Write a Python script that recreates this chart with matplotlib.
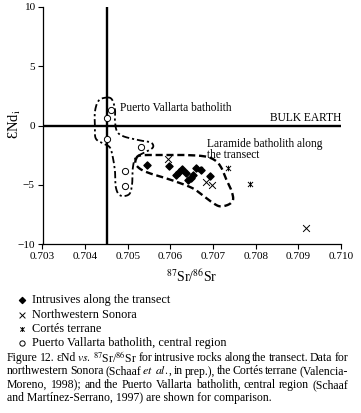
import numpy as np
import matplotlib
matplotlib.use('Agg')
import matplotlib.pyplot as plt
from matplotlib.path import Path

plt.rcParams['font.family'] = ['Liberation Serif', 'DejaVu Serif']
plt.rcParams['mathtext.fontset'] = 'stix'

# data
intr_sr = [0.70546, 0.70596, 0.70612, 0.70620, 0.70628, 0.70636, 0.70641, 0.70648, 0.70654, 0.70660, 0.70672, 0.70692]
intr_nd = [-3.30, -3.40, -4.15, -3.95, -3.70, -4.00, -4.60, -4.40, -4.15, -3.55, -3.75, -4.30]

sonora_sr = [0.70595, 0.70684, 0.70697, 0.70917]
sonora_nd = [-2.86, -4.75, -5.05, -8.62]

cortes_sr = [0.70670, 0.70736, 0.70787]
cortes_nd = [-3.70, -3.56, -4.97]

pv_sr = [0.70460, 0.70452, 0.70451, 0.70532, 0.70493, 0.70493]
pv_nd = [1.30, 0.60, -1.10, -1.85, -3.80, -5.13]

bulk_sr = 0.70451  # vertical reference line

# hand drawn envelopes (data coords)
pv_env_sr = [0.70451, 0.70463, 0.70470, 0.70470, 0.70475, 0.70491, 0.70529, 0.70554, 0.70559, 0.70540,
             0.70519, 0.70512, 0.70510, 0.70503, 0.70482, 0.70472, 0.70470, 0.70465, 0.70458, 0.70442,
             0.70425, 0.70423, 0.70423, 0.70432]
pv_env_nd = [2.36, 2.19, 1.35, 0.34, -0.51, -0.93, -1.26, -1.43, -1.85, -2.27,
             -2.70, -3.54, -4.97, -5.81, -5.90, -5.22, -3.88, -2.70, -1.85, -1.52,
             -1.10, -0.17, 1.18, 2.11]
lar_env_sr = [0.70519, 0.70529, 0.70576, 0.70634, 0.70681, 0.70705, 0.70719, 0.70730, 0.70742, 0.70747,
              0.70737, 0.70716, 0.70698, 0.70676, 0.70653, 0.70618, 0.70583, 0.70552, 0.70531, 0.70519]
lar_env_nd = [-2.86, -2.53, -2.49, -2.49, -2.61, -2.95, -3.54, -4.47, -5.39, -6.23,
              -6.66, -6.82, -6.49, -5.90, -5.31, -4.80, -4.38, -4.04, -3.71, -3.29]

leg_labels = ['Intrusives along the transect', 'Northwestern Sonora', 'Cortés terrane',
              'Puerto Vallarta batholith, central region']

caption = [
    ['Figure', '12.', 'εNd', r'$\mathit{vs.}$', r'$^{87}$Sr/$^{86}$Sr', 'for', 'intrusive', 'rocks', 'along',
     'the', 'transect.', 'Data', 'for'],
    ['northwestern', 'Sonora', '(Schaaf', r'$\mathit{et}$', r'$\mathit{al.}$,', 'in', 'prep.),', 'the',
     'Cortés', 'terrane', '(Valencia-'],
    ['Moreno,', '1998);', 'and', 'the', 'Puerto', 'Vallarta', 'batholith,', 'central', 'region', '(Schaaf'],
    ['and', 'Martínez-Serrano,', '1997)', 'are', 'shown', 'for', 'comparison.'],
]


def smooth_closed(xs, ys, n=12):
    # catmull-rom through the envelope vertices
    p = np.column_stack([xs, ys])
    m = len(p)
    out = []
    t = np.linspace(0, 1, n, endpoint=False)[:, None]
    for i in range(m):
        p0, p1, p2, p3 = p[i - 1], p[i], p[(i + 1) % m], p[(i + 2) % m]
        out.append(0.5 * ((2 * p1) + (-p0 + p2) * t + (2 * p0 - 5 * p1 + 4 * p2 - p3) * t ** 2
                          + (-p0 + 3 * p1 - 3 * p2 + p3) * t ** 3))
    out = np.vstack(out)
    return np.vstack([out, out[:1]])


W, H = 361, 413
fig = plt.figure(figsize=(W / 100, H / 100), dpi=100)
ax = fig.add_axes([42.5 / W, 1 - 244 / H, (341 - 42.5) / W, (244 - 7) / H])

ax.set_xlim(0.703, 0.710)
ax.set_ylim(-10, 10)
ax.spines['top'].set_visible(False)
ax.spines['right'].set_visible(False)
for s in ('left', 'bottom'):
    ax.spines[s].set_linewidth(0.9)
ax.set_xticks(np.arange(0.703, 0.7101, 0.001))
ax.set_xticklabels(['%.3f' % v for v in np.arange(0.703, 0.7101, 0.001)])
ax.set_yticks([-10, -5, 0, 5, 10])
ax.tick_params(length=3.5, width=0.8, labelsize=8.1, pad=2)

ax.axvline(bulk_sr, color='black', lw=1.7)
ax.axhline(0, color='black', lw=1.7)

env = smooth_closed(pv_env_sr, pv_env_nd)
ax.plot(env[:, 0], env[:, 1], color='black', lw=1.3, ls=(0, (4, 1.6, 1.2, 1.6)))
env = smooth_closed(lar_env_sr, lar_env_nd)
ax.plot(env[:, 0], env[:, 1], color='black', lw=1.7, ls=(0, (3, 1.6)))

cortes_marker = Path([(-1, -1), (1, 1), (-1, 1), (1, -1), (0, -1.1), (0, 1.1)],
                     [Path.MOVETO, Path.LINETO, Path.MOVETO, Path.LINETO, Path.MOVETO, Path.LINETO])

h1 = ax.scatter(intr_sr, intr_nd, marker='D', s=13, color='black', zorder=3)
h2 = ax.scatter(sonora_sr, sonora_nd, marker='x', s=24, color='black', linewidths=0.7, zorder=3)
h3 = ax.scatter(cortes_sr, cortes_nd, marker=cortes_marker, s=16, color='black', linewidths=0.7, zorder=3)
h4 = ax.scatter(pv_sr, pv_nd, marker='o', s=20, facecolors='white', edgecolors='black', linewidths=0.7, zorder=4)

ax.text(0.70482, 1.2, 'Puerto Vallarta batholith', fontsize=8.3, va='baseline')
ax.text(0.71000, 0.35, 'BULK EARTH', fontsize=8.3, ha='right', va='baseline')
ax.text(0.706865, -1.79, 'Laramide batholith along', fontsize=8.3, va='baseline')
ax.text(0.706865, -2.72, 'the transect', fontsize=8.3, va='baseline')

fig.text(15 / W, 1 - 124 / H, 'ƐNd$_{\\mathrm{i}}$', rotation=90, ha='center', va='center', fontsize=10.5)
fig.text(192 / W, 1 - 277 / H, r'$^{87}$Sr/$^{86}$Sr', ha='center', va='center', fontsize=10)

fig.legend([h1, h2, h3, h4], leg_labels, loc='upper left', bbox_to_anchor=(17 / W, 1 - 294.5 / H),
           frameon=False, fontsize=8.8, handlelength=0.8, handletextpad=0.4, labelspacing=0.19,
           borderpad=0, borderaxespad=0, scatterpoints=1, markerscale=0.85)

# caption, justified by hand
r = fig.canvas.get_renderer()
x0, x1 = 7, 348
line_y = [358, 371.5, 385, 398.5]
cap_fs = 8.5
for words, yy in zip(caption, line_y):
    if words is caption[-1]:
        fig.text(x0 / W, 1 - yy / H, ' '.join(words), fontsize=cap_fs, va='center')
        continue
    ts = [fig.text(0, 1 - yy / H, w, fontsize=cap_fs, va='center') for w in words]
    ws = [t.get_window_extent(renderer=r).width for t in ts]
    gap = (x1 - x0 - sum(ws)) / (len(ws) - 1)
    x = x0
    for t, w in zip(ts, ws):
        t.set_x(x / W)
        x += w + gap

fig.savefig('out.png', dpi=100)
